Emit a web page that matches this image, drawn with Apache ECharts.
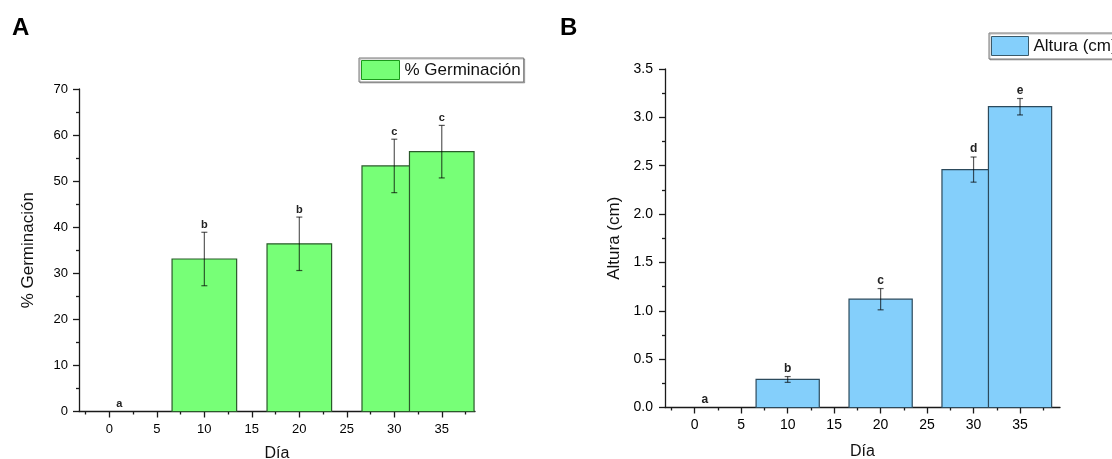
<!DOCTYPE html>
<html>
<head>
<meta charset="utf-8">
<script src="https://cdn.jsdelivr.net/npm/echarts@6/dist/echarts.min.js"></script>
<style>
html,body{margin:0;padding:0;background:#fff;}
#chart{width:1112px;height:459px;}
</style>
</head>
<body>
<div id="chart"></div>
<script>
// ---- data ----
const days = [0, 10, 20, 30, 35];
const germination = [0, 33.1, 36.4, 53.3, 56.4];
const germinationErr = [0, 5.8, 5.8, 5.8, 5.7];
const germinationLetters = ['a', 'b', 'b', 'c', 'c'];
const heightCm = [0, 0.29, 1.12, 2.46, 3.11];
const heightErr = [0, 0.03, 0.11, 0.13, 0.085];
const heightLetters = ['a', 'b', 'c', 'd', 'e'];
const xTicks = [0, 5, 10, 15, 20, 25, 30, 35];
const xMinorTicks = [-2.5, 2.5, 7.5, 12.5, 17.5, 22.5, 27.5, 32.5, 37.5];
const panelLabels = ['A', 'B'];
const seriesNames = ['% Germinación', 'Altura (cm)'];
const xTitle = 'Día';

// ---- styling ----
const FONT = "Arial, 'Liberation Sans', sans-serif";
const BAR_W = 6.8;
const GREEN = '#77ff77', GREEN_EDGE = '#2a5a2a';
const BLUE = '#84cffb', BLUE_EDGE = '#2c4a5c';
const AX = '#1a1a1a';

function barRender(fill, edge) {
  return function (params, api) {
    const x = api.value(0), y = api.value(1);
    if (!y) return null;
    const a = api.coord([x - BAR_W / 2, y]);
    const b = api.coord([x + BAR_W / 2, 0]);
    return {
      type: 'rect',
      shape: { x: a[0], y: a[1], width: b[0] - a[0], height: b[1] - a[1] },
      style: { fill: fill, stroke: edge, lineWidth: 1.2 }
    };
  };
}
function errRender(letters, fontSize) {
  return function (params, api) {
    const x = api.value(0), y = api.value(1), e = api.value(2);
    const top = api.coord([x, y + e]);
    const bot = api.coord([x, y - e]);
    const children = [];
    const st = { stroke: 'rgba(0,0,0,0.65)', lineWidth: 1.2 };
    if (e > 0) {
      children.push({ type: 'line', shape: { x1: top[0], y1: top[1], x2: bot[0], y2: bot[1] }, style: st });
      children.push({ type: 'line', shape: { x1: top[0] - 3, y1: top[1], x2: top[0] + 3, y2: top[1] }, style: st });
      children.push({ type: 'line', shape: { x1: bot[0] - 3, y1: bot[1], x2: bot[0] + 3, y2: bot[1] }, style: st });
    }
    const dx = y === 0 ? 10 : 0;
    children.push({
      type: 'text',
      style: {
        x: top[0] + dx, y: top[1] - 2, text: letters[params.dataIndex],
        align: 'center', verticalAlign: 'bottom',
        font: 'bold ' + fontSize + 'px ' + FONT, fill: '#222'
      }
    });
    return { type: 'group', children: children };
  };
}

function valueXAxis(grid, max, labelSize, margin, nameGap) {
  return [{
    type: 'value', gridIndex: grid, position: 'bottom', min: -3.2, max: max,
    name: xTitle, nameLocation: 'middle', nameGap: nameGap,
    nameTextStyle: { fontFamily: FONT, fontSize: 16, color: '#111' },
    axisLine: { show: true, onZero: false, lineStyle: { color: AX, width: 1.3 } },
    axisTick: { show: true, length: 6, customValues: xTicks, lineStyle: { color: AX, width: 1.3 } },
    axisLabel: { show: true, customValues: xTicks, margin: margin, fontFamily: FONT, fontSize: labelSize, color: '#000' },
    splitLine: { show: false }
  }, {
    type: 'value', gridIndex: grid, position: 'bottom', min: -3.2, max: max,
    axisLine: { show: false, onZero: false },
    axisTick: { show: true, length: 3, customValues: xMinorTicks, lineStyle: { color: AX, width: 1.3 } },
    axisLabel: { show: false },
    splitLine: { show: false }
  }];
}

function valueYAxis(grid, max, interval, name, labelSize, margin, fmt) {
  return {
    type: 'value', gridIndex: grid, min: 0, max: max, interval: interval,
    name: name, nameLocation: 'middle', nameGap: 42,
    nameTextStyle: { fontFamily: FONT, fontSize: 17, color: '#111' },
    axisLine: { show: true, onZero: false, lineStyle: { color: AX, width: 1.3 } },
    axisTick: { show: true, length: 6, lineStyle: { color: AX, width: 1.3 } },
    minorTick: { show: true, splitNumber: 2, length: 3, lineStyle: { color: AX, width: 1.3 } },
    axisLabel: { margin: margin, fontFamily: FONT, fontSize: labelSize, color: '#000', formatter: fmt },
    splitLine: { show: false }
  };
}

const chart = echarts.init(document.getElementById('chart'), null, { renderer: 'canvas' });
const option = {
  animation: false,
  backgroundColor: '#fff',
  graphic: [
    { type: 'text', left: 12, top: 16, style: { text: panelLabels[0], font: 'bold 24px ' + FONT, fill: '#000' } },
    { type: 'text', left: 560, top: 16, style: { text: panelLabels[1], font: 'bold 24px ' + FONT, fill: '#000' } }
  ],
  legend: [{
    left: 359, top: 58, orient: 'horizontal', selectedMode: false,
    padding: [2, 3, 2, 2], itemWidth: 38, itemHeight: 19, itemGap: 4,
    borderColor: '#777', borderWidth: 1,
    shadowColor: 'rgba(0,0,0,0.25)', shadowOffsetX: 1, shadowOffsetY: 1,
    backgroundColor: '#fff',
    textStyle: { fontFamily: FONT, fontSize: 17, color: '#111' },
    data: [{ name: seriesNames[0], icon: 'rect', itemStyle: { color: GREEN, borderColor: '#1a9a1a', borderWidth: 1 } }]
  }, {
    left: 989, top: 33, orient: 'horizontal', selectedMode: false,
    padding: [3, 3, 3, 2], itemWidth: 37, itemHeight: 19, itemGap: 4,
    borderColor: '#777', borderWidth: 1,
    shadowColor: 'rgba(0,0,0,0.25)', shadowOffsetX: 1, shadowOffsetY: 1,
    backgroundColor: '#fff',
    textStyle: { fontFamily: FONT, fontSize: 17, color: '#111' },
    data: [{ name: seriesNames[1], icon: 'rect', itemStyle: { color: BLUE, borderColor: '#3a5a6a', borderWidth: 1 } }]
  }],
  grid: [
    { left: 79, top: 89, width: 396, height: 322.5, containLabel: false, outerBoundsMode: 'none' },
    { left: 665, top: 69, width: 395, height: 338.5, containLabel: false, outerBoundsMode: 'none' }
  ],
  xAxis: [].concat(valueXAxis(0, 38.5, 13, 11, 34), valueXAxis(1, 39.3, 14, 11, 36)),
  yAxis: [
    valueYAxis(0, 70, 10, seriesNames[0], 13, 11, v => String(v)),
    valueYAxis(1, 3.5, 0.5, seriesNames[1], 14, 12, v => v.toFixed(1))
  ],
  series: [{
    name: seriesNames[0], type: 'custom', xAxisIndex: 0, yAxisIndex: 0,
    itemStyle: { color: GREEN },
    renderItem: barRender(GREEN, GREEN_EDGE),
    encode: { x: 0, y: 1 },
    data: days.map((d, i) => [d, germination[i]])
  }, {
    name: 'errGerm', type: 'custom', xAxisIndex: 0, yAxisIndex: 0, z: 3,
    renderItem: errRender(germinationLetters, 11),
    encode: { x: 0, y: 1 },
    data: days.map((d, i) => [d, germination[i], germinationErr[i]])
  }, {
    name: seriesNames[1], type: 'custom', xAxisIndex: 2, yAxisIndex: 1,
    itemStyle: { color: BLUE },
    renderItem: barRender(BLUE, BLUE_EDGE),
    encode: { x: 0, y: 1 },
    data: days.map((d, i) => [d, heightCm[i]])
  }, {
    name: 'errHeight', type: 'custom', xAxisIndex: 2, yAxisIndex: 1, z: 3,
    renderItem: errRender(heightLetters, 12),
    encode: { x: 0, y: 1 },
    data: days.map((d, i) => [d, heightCm[i], heightErr[i]])
  }]
};
chart.setOption(option);
</script>
</body>
</html>
